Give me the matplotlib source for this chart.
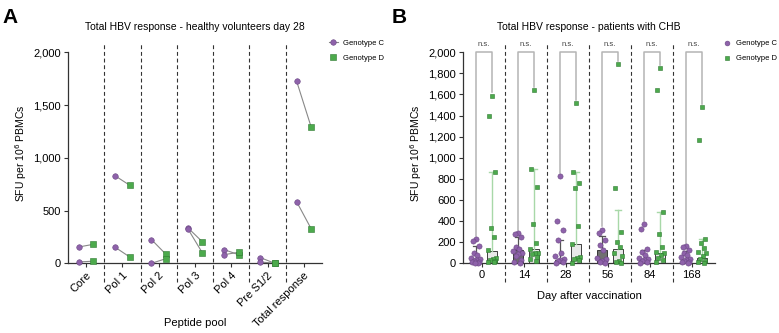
import numpy as np
import matplotlib
matplotlib.use('Agg')
import matplotlib.pyplot as plt
from matplotlib.ticker import FuncFormatter, MultipleLocator

plt.rcParams['font.family'] = ['Liberation Sans', 'DejaVu Sans']

# ---- panel A data: two healthy volunteers, day 28 ----
pools = ['Core', 'Pol 1', 'Pol 2', 'Pol 3', 'Pol 4', 'Pre S1/2', 'Total response']
hv1_c = [155, 829, 225, 338, 130, 54, 1728]
hv1_d = [180, 740, 85, 205, 82, 0, 1294]
hv2_c = [13, 152, 0, 329, 82, 13, 585]
hv2_d = [20, 60, 44, 101, 104, 0, 329]

# ---- panel B data: patients with CHB ----
days = ['0', '14', '28', '56', '84', '168']
chb_c = [
    [230, 215, 160, 95, 80, 55, 40, 30, 20, 15, 10, 5, 0],
    [290, 280, 245, 155, 135, 120, 100, 90, 65, 35, 15, 5],
    [825, 400, 315, 220, 95, 65, 40, 30, 20, 10, 0],
    [320, 285, 225, 175, 130, 50, 40, 25, 15, 5],
    [370, 325, 135, 110, 80, 55, 40, 30, 20, 10, 5],
    [165, 150, 125, 100, 80, 60, 40, 30, 20, 15, 10, 5],
]
chb_d = [
    [1590, 1400, 865, 330, 250, 130, 55, 40, 30, 25, 15, 10],
    [1640, 890, 720, 370, 195, 140, 100, 95, 85, 60, 40, 25],
    [1515, 865, 765, 710, 355, 185, 60, 50, 45, 30, 0],
    [1885, 710, 300, 200, 150, 100, 65, 20, 15, 5],
    [1850, 1640, 490, 280, 150, 110, 100, 80, 55, 30, 15],
    [1480, 1170, 230, 190, 145, 110, 95, 65, 45, 25, 15, 5],
]
bar_c = [45, 126, 30, 126, 30, 30]
bar_d = [119, 133, 183, 135, 100, 50]
err_c = [160, 250, 220, 255, 130, 120]
err_d = [865, 890, 865, 505, 490, 230]

PURPLE = '#8e62aa'
PURPLE_EDGE = '#6b4784'
GREEN = '#4caa4c'
GREEN_EDGE = '#2f7a32'
LIGHT_GREEN = '#a8d8a8'
BRACKET = '#b4b4b4'
AXC = '#333333'

fig = plt.figure(figsize=(7.79, 3.33), dpi=100)
axA = fig.add_axes([0.0873, 0.2093, 0.326, 0.659])
axB = fig.add_axes([0.5944, 0.2093, 0.3235, 0.659])

thousands = FuncFormatter(lambda v, p: f'{int(v):,}')


def style_axis(ax):
    for s in ['top', 'right']:
        ax.spines[s].set_visible(False)
    for s in ['left', 'bottom']:
        ax.spines[s].set_color(AXC)
        ax.spines[s].set_linewidth(0.9)
    ax.spines['left'].set_bounds(0, 2000)
    ax.set_ylim(0, 2080)
    ax.yaxis.set_major_formatter(thousands)
    ax.tick_params(axis='both', labelsize=8, length=3, width=0.8, color=AXC, pad=2)
    ax.set_ylabel('SFU per 10$^6$ PBMCs', fontsize=7.5, labelpad=3)


def separators(ax, n):
    for k in range(n - 1):
        ax.plot([k + 0.5, k + 0.5], [-175, 2085], ls=(0, (3.5, 2.5)), lw=0.8,
                color=AXC, clip_on=False, zorder=1)


# ---------------- panel A ----------------
style_axis(axA)
xa = np.arange(len(pools))
off = 0.2
separators(axA, len(pools))
for c_vals, d_vals in [(hv1_c, hv1_d), (hv2_c, hv2_d)]:
    for i in range(len(pools)):
        axA.plot([xa[i] - off, xa[i] + off], [c_vals[i], d_vals[i]],
                 color='#888888', lw=0.8, zorder=2, clip_on=False)
    axA.scatter(xa - off, c_vals, s=16, marker='o', color=PURPLE,
                edgecolor=PURPLE_EDGE, linewidth=0.4, zorder=3, clip_on=False)
    axA.scatter(xa + off, d_vals, s=14, marker='s', color=GREEN,
                edgecolor=GREEN_EDGE, linewidth=0.4, zorder=3, clip_on=False)
axA.set_xlim(-0.5, len(pools) - 0.5)
axA.yaxis.set_major_locator(MultipleLocator(500))
axA.set_xticks(xa)
axA.set_xticklabels(pools, rotation=45, ha='right', rotation_mode='anchor', fontsize=8)
axA.set_xlabel('Peptide pool', fontsize=8)
axA.xaxis.set_label_coords(0.5, -0.25)
axA.set_title('Total HBV response - healthy volunteers day 28', fontsize=7.5, pad=10)
hA1, = axA.plot([], [], color='#888888', lw=0.8, marker='o', ms=4,
                mfc=PURPLE, mec=PURPLE_EDGE, mew=0.4)
hA2, = axA.plot([], [], ls='none', marker='s', ms=3.8,
                mfc=GREEN, mec=GREEN_EDGE, mew=0.4)
axA.legend([hA1, hA2], ['Genotype C', 'Genotype D'], loc='upper left',
           bbox_to_anchor=(1.0, 1.05), frameon=False, fontsize=5.5,
           handlelength=1.2, handletextpad=0.6, labelspacing=1.0)

# ---------------- panel B ----------------
style_axis(axB)
axB.yaxis.set_major_locator(MultipleLocator(200))
xb = np.arange(len(days))
offc, offd = -0.2, 0.19
bw = 0.24
jit = [0.0, -0.07, 0.07, -0.03, 0.04, -0.1, 0.1, 0.02, -0.05, 0.08, -0.09, 0.05, -0.02]
separators(axB, len(days))

for i in range(len(days)):
    xc, xd = xb[i] + offc, xb[i] + offd
    # bars with upper error whisker
    axB.bar(xc, bar_c[i], width=bw, color='#707070', edgecolor='#222222',
            linewidth=0.6, zorder=2)
    axB.bar(xd, bar_d[i], width=bw, color='#e8e8e8', edgecolor='#222222',
            linewidth=0.6, zorder=2)
    axB.plot([xc, xc], [bar_c[i], err_c[i]], color='#555555', lw=0.9, zorder=2)
    axB.plot([xc - 0.07, xc + 0.07], [err_c[i], err_c[i]], color='#555555', lw=0.9, zorder=2)
    axB.plot([xd, xd], [bar_d[i], err_d[i]], color=LIGHT_GREEN, lw=1.0, zorder=2)
    axB.plot([xd - 0.08, xd + 0.08], [err_d[i], err_d[i]], color=LIGHT_GREEN, lw=1.0, zorder=2)
    # individual patients
    jc = [jit[k % len(jit)] for k in range(len(chb_c[i]))]
    jd = [jit[k % len(jit)] for k in range(len(chb_d[i]))]
    axB.scatter(xc + np.array(jc), chb_c[i], s=14, marker='o', color=PURPLE,
                edgecolor=PURPLE_EDGE, linewidth=0.4, zorder=3, clip_on=False)
    axB.scatter(xd + np.array(jd), chb_d[i], s=12, marker='s', color=GREEN,
                edgecolor=GREEN_EDGE, linewidth=0.4, zorder=3, clip_on=False)
    # significance bracket
    top = 2000
    axB.plot([xc, xc, xd, xd], [max(chb_c[i]) + 30, top, top, max(chb_d[i]) + 30],
             color=BRACKET, lw=1.1, zorder=1, clip_on=False)
    axB.text((xc + xd) / 2, 2045, 'n.s.', ha='center', va='bottom', fontsize=5.5,
             color='#444444')

axB.set_xlim(-0.5, len(days) - 0.5)
axB.set_xticks(xb - 0.05)
axB.set_xticklabels(days, fontsize=8)
axB.set_xlabel('Day after vaccination', fontsize=8, labelpad=8)
axB.set_title('Total HBV response - patients with CHB', fontsize=7.5, pad=10)
hB1 = axB.scatter([], [], s=12, marker='o', color=PURPLE, edgecolor=PURPLE_EDGE, linewidth=0.4)
hB2 = axB.scatter([], [], s=12, marker='s', color=GREEN, edgecolor=GREEN_EDGE, linewidth=0.4)
axB.legend([hB1, hB2], ['Genotype C', 'Genotype D'], loc='upper left',
           bbox_to_anchor=(1.0, 1.05), frameon=False, fontsize=5.5,
           handlelength=1.2, handletextpad=0.6, labelspacing=1.0)

fig.text(0.003, 0.975, 'A', fontsize=15, fontweight='bold', va='top')
fig.text(0.503, 0.975, 'B', fontsize=15, fontweight='bold', va='top')

fig.savefig('out.png', dpi=100)
